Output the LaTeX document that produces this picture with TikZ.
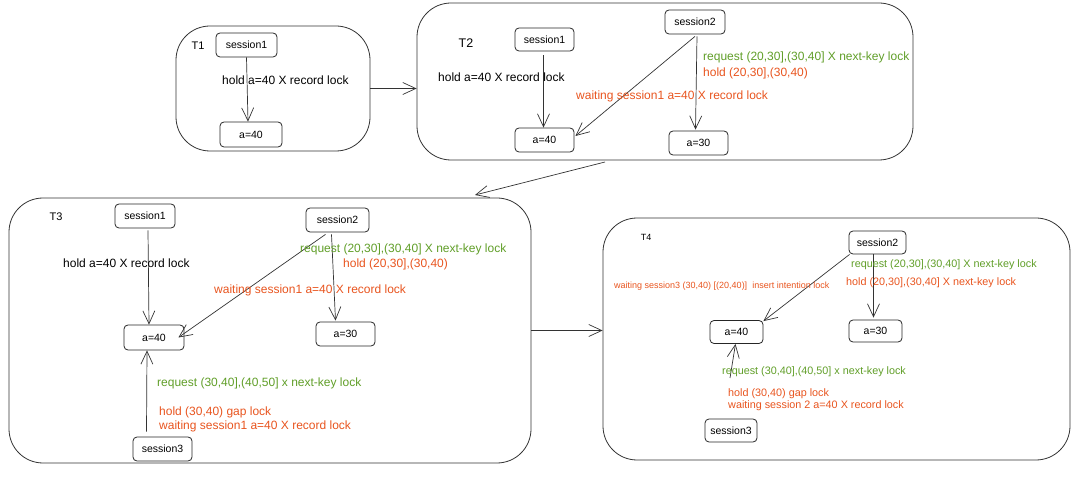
\documentclass[tikz,border=0pt]{standalone}
\usepackage{fontspec}
\setmainfont{Liberation Sans}
\usetikzlibrary{arrows.meta,calc}
\definecolor{lgreen}{RGB}{96,158,40}
\definecolor{lred}{RGB}{232,84,30}
\begin{document}
\begin{tikzpicture}[x=1pt,y=-1pt,
 frame/.style={draw=black!80, line width=0.8pt, rounded corners=34pt, inner sep=0pt},
 box/.style={draw=black!85, line width=0.8pt, rounded corners=4pt, font=\fontsize{10.5}{12}\selectfont, inner sep=0pt},
 arr/.style={draw=black!80, line width=0.7pt, -{Straight Barb[length=13pt,width=12pt]}},
 lbl/.style={font=\fontsize{12}{14}\selectfont, anchor=west, inner sep=0pt},
 slbl/.style={font=\fontsize{10.8}{13}\selectfont, anchor=west, inner sep=0pt},
 tlbl/.style={font=\fontsize{9}{10}\selectfont, anchor=west, inner sep=0pt},
 ttl/.style={font=\fontsize{11}{13}\selectfont, inner sep=0pt},
]
\useasboundingbox (0,0) rectangle (1080,489);
% ---------- T1
\node[frame, minimum width=194pt, minimum height=125pt] (t1) at (273,88.5) {};
\node[ttl] (t1l) at (198,46) {T1};
\node[box, minimum width=61pt, minimum height=24pt] (t1s1) at (246.5,45) {session1};
\node[box, minimum width=62pt, minimum height=25pt] (t1a40) at (251,134.5) {a=40};
\draw[arr] (t1s1.south) -- ($(t1a40.north)+(-3,0)$);
\node[lbl] (t1h) at (222,80) {hold a=40 X record lock};
% ---------- T2
\node[frame, minimum width=496pt, minimum height=157pt] (t2) at (665,81.5) {};
\node[ttl, font=\fontsize{12.5}{14}\selectfont] (t2l) at (466,43) {T2};
\node[box, minimum width=59pt, minimum height=23pt] (t2s1) at (544.5,39.5) {session1};
\node[box, minimum width=59pt, minimum height=24pt] (t2a40) at (544.5,140) {a=40};
\node[box, minimum width=60pt, minimum height=24pt] (t2s2) at (695,22) {session2};
\node[box, minimum width=59pt, minimum height=24pt] (t2a30) at (698.5,143) {a=30};
\draw[arr] ($(t2s1.south)+(-1,4)$) -- ($(t2a40.north)+(-1,0)$);
\draw[arr] ($(t2s2.south)+(0,2)$) -- ($(t2a40.east)+(1,-4)$);
\draw[arr] ($(t2s2.south)+(2,2)$) -- ($(t2a30.north)+(-3,-1)$);
\node[lbl] (t2h) at (438,77) {hold a=40 X record lock};
\node[lbl, text=lgreen] (t2g) at (703,57) {request (20,30],(30,40] X next-key lock};
\node[lbl, text=lred] (t2r) at (703,73) {hold (20,30],(30,40)};
\node[lbl, text=lred] (t2w) at (576,96) {waiting session1 a=40 X record lock};
% ---------- T2 -> T3, T1 -> T2
\draw[arr] (t1.east) -- (t1.east -| t2.west);
\coordinate (c23a) at (605,162);
\coordinate (c23b) at (475,195);
\draw[arr] (c23a) -- (c23b);
% ---------- T3
\node[frame, minimum width=522pt, minimum height=265pt] (t3) at (270,330.5) {};
\node[ttl] (t3l) at (56,217) {T3};
\node[box, minimum width=60pt, minimum height=24pt] (t3s1) at (145,216) {session1};
\node[box, minimum width=63pt, minimum height=24pt] (t3s2) at (337.5,220) {session2};
\node[box, minimum width=60pt, minimum height=25pt] (t3a40) at (154,337.5) {a=40};
\node[box, minimum width=59pt, minimum height=24pt] (t3a30) at (345.5,334) {a=30};
\node[box, minimum width=59pt, minimum height=24pt] (t3s3) at (162.5,449) {session3};
\draw[arr] ($(t3s1.south)+(3,2)$) -- ($(t3a40.north)+(-5,0)$);
\draw[arr] ($(t3s2.south)+(-12,2)$) -- ($(t3a40.east)+(-6,0)$);
\draw[arr] ($(t3s2.south)+(-6,2)$) -- ($(t3a30.north)+(-10,-1)$);
\draw[arr] ($(t3s3.north)+(-16,-5)$) -- ($(t3a40.south)+(-7,0)$);
\node[lbl] (t3h) at (63,263) {hold a=40 X record lock};
\node[lbl, text=lgreen] (t3g) at (300,249) {request (20,30],(30,40] X next-key lock};
\node[lbl, text=lred] (t3r) at (343,264) {hold (20,30],(30,40)};
\node[lbl, text=lred] (t3w) at (214,290) {waiting session1 a=40 X record lock};
\node[lbl, text=lgreen] (t3g2) at (157,383) {request (30,40],(40,50] x next-key lock};
\node[lbl, text=lred] (t3r2) at (159,412) {hold (30,40) gap lock};
\node[lbl, text=lred] (t3w2) at (159,426) {waiting session1 a=40 X record lock};
% ---------- T4
\node[frame, minimum width=467pt, minimum height=242pt] (t4) at (836.5,339) {};
\draw[arr] (t3.east) -- (t3.east -| t4.west);
\node[ttl, font=\fontsize{9}{11}\selectfont] (t4l) at (646,237) {T4};
\node[box, minimum width=57pt, minimum height=23pt] (t4s2) at (877.5,242.5) {session2};
\node[box, minimum width=53pt, minimum height=23pt] (t4a40) at (736.5,332) {a=40};
\node[box, minimum width=53pt, minimum height=22pt] (t4a30) at (875.5,331) {a=30};
\node[box, minimum width=52pt, minimum height=23pt] (t4s3) at (731,430.5) {session3};
\draw[arr] ($(t4s2.south west)+(1,0)$) -- ($(t4a40.north east)+(0,1)$);
\draw[arr] ($(t4s2.south)+(-4,0)$) -- ($(t4a30.north)+(-2,-2)$);
\coordinate (t4up) at (730,378);
\draw[arr] (t4up) -- ($(t4a40.south)+(-1,0)$);
\node[tlbl, text=lred] (t4w) at (614,286) {waiting session3 (30,40) [(20,40)]\ \ insert intention lock};
\node[slbl, text=lgreen] (t4g) at (851,265) {request (20,30],(30,40] X next-key lock};
\node[slbl, text=lred] (t4r) at (846,283) {hold (20,30],(30,40] X next-key lock};
\node[slbl, text=lgreen] (t4g2) at (722,372) {request (30,40],(40,50] x next-key lock};
\node[slbl, text=lred] (t4r2) at (728,394) {hold (30,40) gap lock};
\node[slbl, text=lred] (t4w2) at (728,406) {waiting session 2 a=40 X record lock};
\end{tikzpicture}
\end{document}
